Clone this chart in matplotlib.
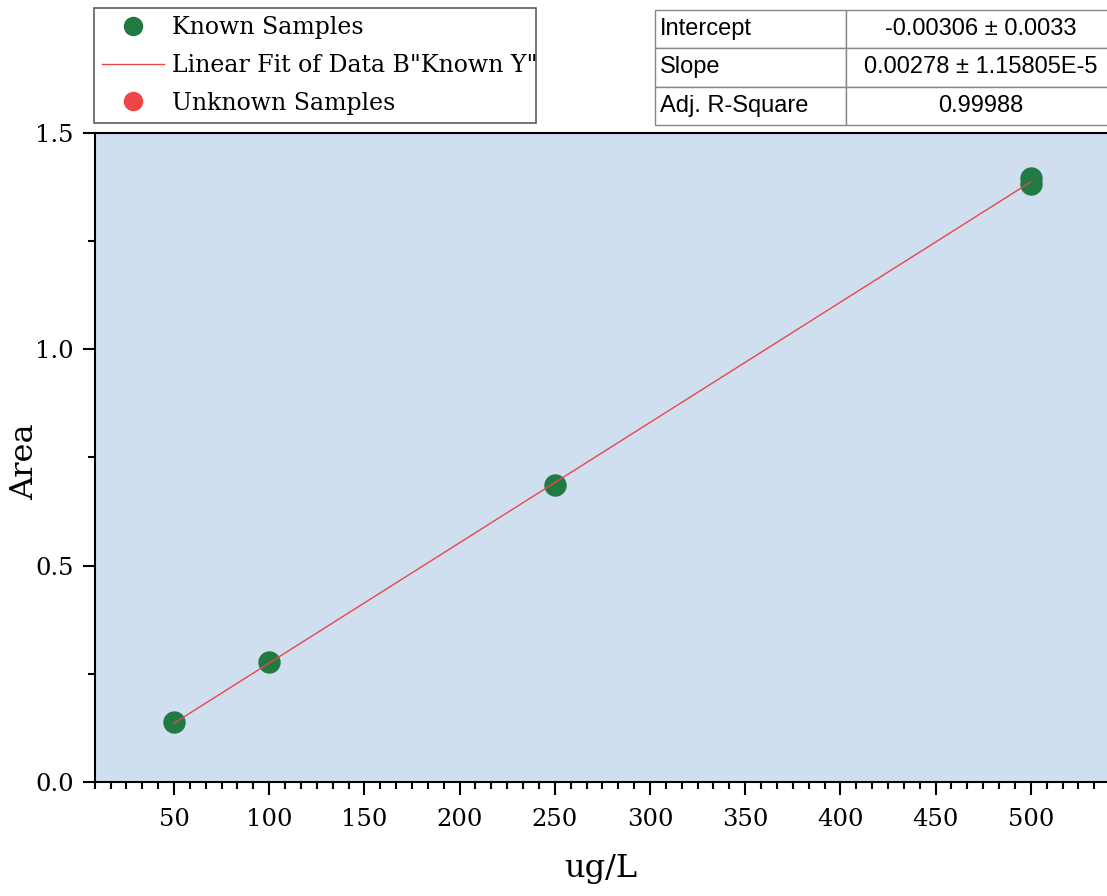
import numpy as np
import matplotlib
matplotlib.use("Agg")
import matplotlib.pyplot as plt
from matplotlib.lines import Line2D
from matplotlib.ticker import MultipleLocator, AutoMinorLocator

# calibration data
known_x = [50, 100, 250, 500, 500]
known_y = [0.138, 0.277, 0.686, 1.395, 1.382]

# fit results as printed in the table
intercept = -0.00306
slope = 0.00278
fit_x = [50, 500]

table_rows = [["Intercept", "-0.00306 \u00b1 0.0033"],
              ["Slope", "0.00278 \u00b1 1.15805E-5"],
              ["Adj. R-Square", "0.99988"]]

xticks = [50, 100, 150, 200, 250, 300, 350, 400, 450, 500]
yticks = [0.0, 0.5, 1.0, 1.5]

W, H = 1107, 896
fig = plt.figure(figsize=(W / 100, H / 100), dpi=100)

serif = "DejaVu Serif"
green = "#217a42"
red_line = "#e8474a"
red_dot = "#f24444"

x0, x1 = 50 / 6, 550
ppu = 1.904
left_px = 174 - (50 - x0) * ppu
bottom_px, top_px = 782, 133
ax = fig.add_axes([left_px / W, (H - bottom_px) / H,
                   (x1 - x0) * ppu / W, (bottom_px - top_px) / H])
ax.set_facecolor("#cfdfef")

fy = [intercept + slope * v for v in fit_x]
ax.plot(fit_x, fy, color=red_line, lw=1.0, zorder=3)
ax.scatter(known_x, known_y, s=260, color=green, zorder=2, linewidths=0)

ax.set_xlim(x0, x1)
ax.set_ylim(0, 1.5)
ax.set_xticks(xticks)
ax.set_yticks(yticks)
ax.xaxis.set_minor_locator(MultipleLocator(50 / 6))
ax.yaxis.set_minor_locator(AutoMinorLocator(2))
ax.yaxis.set_major_formatter(matplotlib.ticker.FormatStrFormatter("%.1f"))
ax.tick_params(which="major", direction="out", length=9, width=1.5, labelsize=17.5)
ax.tick_params(axis="x", which="major", pad=10)
ax.tick_params(axis="y", which="major", pad=6)
ax.tick_params(which="minor", direction="out", length=5, width=1.5)
for lab in ax.get_xticklabels() + ax.get_yticklabels():
    lab.set_family(serif)
for sp in ax.spines.values():
    sp.set_linewidth(1.5)

fig.text(601 / W, 1 - 868 / H, "ug/L", family=serif, fontsize=23, ha="center", va="center")
fig.text(25 / W, 1 - 462 / H, "Area", family=serif, fontsize=23, ha="center", va="center",
         rotation=90)

# legend
handles = [Line2D([], [], ls="none", marker="o", ms=13, color=green, mec=green),
           Line2D([], [], color=red_line, lw=1.0),
           Line2D([], [], ls="none", marker="o", ms=13, color=red_dot, mec=red_dot)]
labels = ["Known Samples", 'Linear Fit of Data B"Known Y"', "Unknown Samples"]
leg = fig.legend(handles, labels, loc="upper left",
                 bbox_to_anchor=(94 / W, 1 - 8 / H, 442 / W, 0), mode="expand",
                 prop={"family": serif, "size": 17}, frameon=True, fancybox=False,
                 edgecolor="#333333", handlelength=2.6, handletextpad=0.35,
                 labelspacing=0.62, borderpad=0.35, borderaxespad=0)
leg.get_frame().set_linewidth(1.2)

# fit parameter table
tax = fig.add_axes([655 / W, 1 - 125 / H, 460 / W, 115 / H])
tax.axis("off")
tbl = tax.table(cellText=table_rows, bbox=[0, 0, 1, 1], colWidths=[191, 269])
tbl.auto_set_font_size(False)
for (r, c), cell in tbl.get_celld().items():
    cell.set_edgecolor("#888888")
    cell.set_linewidth(1.0)
    cell.get_text().set_fontsize(17)
    cell.get_text().set_family("Liberation Sans")
    if c == 0:
        cell.get_text().set_ha("left")
        cell.PAD = 0.025
    else:
        cell.get_text().set_ha("center")

fig.savefig("out.png", dpi=100)
